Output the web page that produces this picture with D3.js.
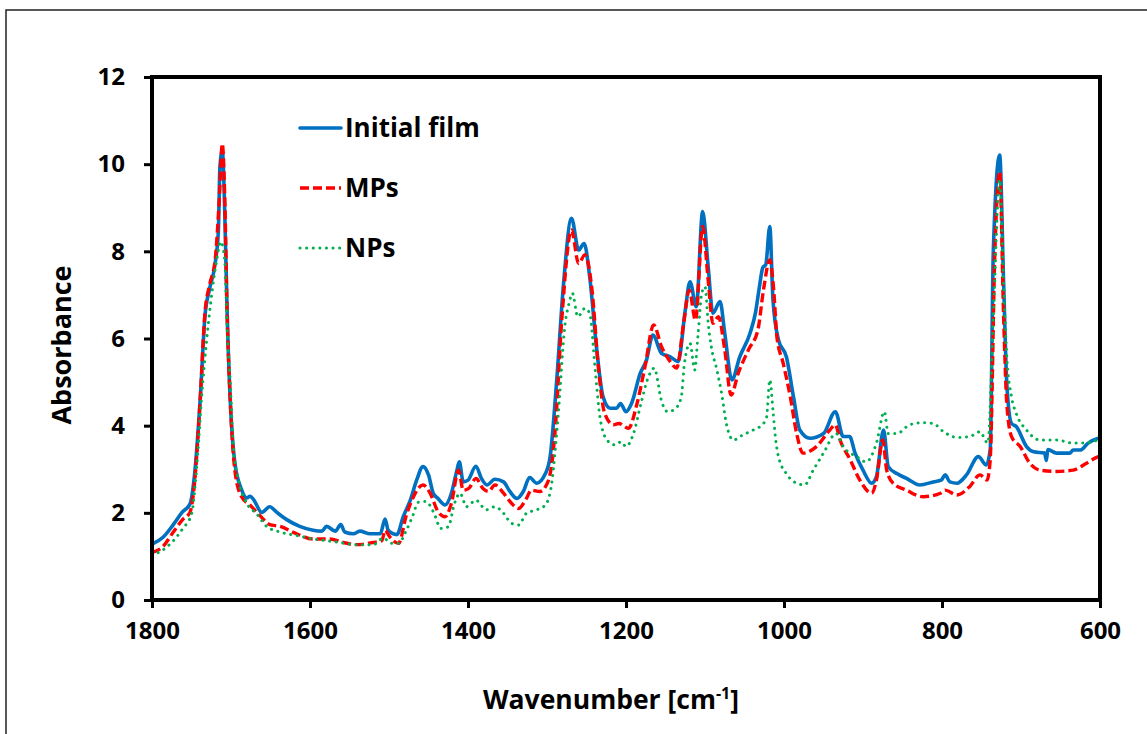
<!DOCTYPE html>
<html>
<head>
<meta charset="utf-8">
<script src="https://cdn.jsdelivr.net/npm/d3@7"></script>
<style>
  html, body { margin: 0; padding: 0; background: #fff; }
  svg { display: block; }
  text { font-family: "Open Sans", "DejaVu Sans", sans-serif; font-weight: 700; fill: #000; }
</style>
</head>
<body>
<svg id="chart" width="1147" height="734"></svg>
<script>
// ---------- data ----------
const xTicks = [1800, 1600, 1400, 1200, 1000, 800, 600];
const yTicks = [0, 2, 4, 6, 8, 10, 12];
const seriesNames = ["Initial film", "MPs", "NPs"];

const initialWn = [1800,1786,1773,1762,1752,1746,1739,1733,1727,1720,1716,1714,1711,1708,1705,1701,1695,1687,1680,1676,1672,1661,1651,1642,1630,1613,1596,1585,1579,1568,1561,1556,1545,1537,1524,1511,1505,1501,1490,1482,1473,1465,1457,1450,1444,1438,1429,1421,1414,1411,1406,1400,1390,1383,1376,1366,1355,1347,1338,1330,1322,1313,1302,1296,1288,1279,1269,1260,1253,1246,1237,1229,1220,1212,1207,1200,1193,1182,1174,1166,1155,1144,1134,1125,1119,1111,1103,1096,1090,1081,1075,1066,1056,1043,1036,1031,1027,1023,1018,1014,1007,997,988,980,967,950,935,925,917,910,900,889,883,874,868,857,845,828,811,801,796,790,781,769,754,744,739,735,727,722,718,712,706,693,684,670,668,666,655,638,634,625,615,602,600];
const initialAbs = [1.28,1.44,1.73,2.01,2.2,2.9,4.6,6.5,7.15,7.73,8.47,9.95,10.3,8.96,6.66,4.6,3.13,2.55,2.34,2.38,2.32,2.01,2.14,2.01,1.85,1.69,1.6,1.58,1.69,1.58,1.73,1.56,1.52,1.58,1.52,1.52,1.86,1.6,1.5,1.91,2.29,2.75,3.06,2.87,2.45,2.33,2.18,2.45,2.98,3.17,2.71,2.75,3.07,2.79,2.64,2.77,2.71,2.49,2.33,2.49,2.81,2.68,2.9,3.29,4.97,7.27,8.76,8.03,8.18,7.42,5.74,4.66,4.4,4.4,4.51,4.32,4.51,5.2,5.51,6.08,5.66,5.58,5.47,6.65,7.3,6.73,8.91,7.65,6.58,6.85,6.12,5.05,5.58,6.12,6.6,7.2,7.62,7.7,8.57,6.9,5.97,5.58,4.66,3.9,3.71,3.82,4.32,3.75,3.75,3.37,2.98,2.68,2.83,3.9,3.06,2.9,2.79,2.64,2.71,2.75,2.87,2.71,2.68,2.87,3.29,3.1,3.44,8.03,10.21,7.27,4.97,4.05,3.98,3.52,3.4,3.37,3.2,3.45,3.37,3.37,3.44,3.44,3.6,3.71,3.72];

const mpsWn = [1800,1786,1773,1761,1752,1746,1739,1733,1727,1720,1715,1711,1708,1705,1701,1695,1687,1676,1663,1651,1638,1617,1596,1575,1558,1541,1520,1509,1505,1499,1488,1478,1469,1457,1448,1438,1429,1421,1412,1406,1399,1390,1381,1374,1366,1355,1345,1336,1326,1320,1309,1298,1290,1281,1269,1260,1252,1243,1235,1227,1216,1209,1197,1186,1176,1165,1155,1144,1136,1127,1120,1112,1103,1096,1090,1083,1075,1067,1058,1045,1033,1026,1018,1013,1009,1001,992,984,976,959,942,935,929,916,904,889,883,875,870,862,845,824,802,796,781,765,752,743,739,733,727,722,718,712,701,689,676,655,634,617,602,600];
const mpsAbs = [1.09,1.23,1.56,1.85,2.01,2.71,4.6,6.58,7.24,7.81,9.13,10.47,9.29,6.66,4.6,2.96,2.38,2.18,1.93,1.73,1.69,1.52,1.4,1.4,1.32,1.27,1.32,1.36,1.6,1.45,1.3,1.95,2.37,2.64,2.45,2.03,1.91,2.22,2.98,2.52,2.56,2.79,2.56,2.49,2.64,2.45,2.22,2.1,2.33,2.52,2.49,2.75,3.82,6.5,8.49,7.72,7.92,7.11,5.35,4.28,4.02,4.05,3.94,4.51,5.35,6.31,5.81,5.47,5.32,6.35,7.11,6.42,8.57,7.34,6.35,6.5,5.74,4.7,5.2,5.74,6.2,7.11,7.8,7.11,6.04,5.43,4.66,3.82,3.37,3.52,3.9,4.02,3.67,3.21,2.75,2.45,2.75,3.67,2.98,2.68,2.52,2.37,2.45,2.52,2.41,2.6,2.87,2.75,3.21,8.03,9.83,6.5,4.51,3.75,3.52,3.14,2.98,2.95,2.98,3.14,3.29,3.3];

const npsWn = [1800,1786,1773,1761,1750,1743,1737,1731,1724,1718,1713,1708,1705,1701,1697,1690,1680,1667,1655,1638,1617,1596,1579,1562,1541,1520,1507,1497,1488,1478,1470,1463,1453,1444,1434,1425,1417,1410,1402,1390,1377,1366,1355,1345,1336,1326,1313,1302,1294,1286,1277,1272,1268,1261,1252,1246,1239,1233,1224,1214,1206,1200,1191,1181,1173,1164,1160,1156,1147,1137,1130,1126,1119,1113,1109,1104,1100,1096,1092,1085,1079,1073,1064,1052,1039,1026,1022,1018,1014,1011,1007,997,984,974,963,950,934,925,908,896,883,873,868,857,841,824,811,798,781,765,752,742,735,727,722,718,712,706,693,676,655,634,622,602,600];
const npsAbs = [1.03,1.15,1.36,1.64,1.97,3.13,4.69,5.92,7.07,7.81,8.22,7.81,6.25,5.02,3.54,2.71,2.22,1.97,1.69,1.56,1.48,1.4,1.36,1.32,1.27,1.27,1.42,1.3,1.3,1.6,1.93,2.24,2.26,2.03,1.64,1.68,2.22,2.45,2.14,2.29,2.07,2.14,1.99,1.76,1.72,1.99,2.07,2.18,2.68,4.2,6.35,6.81,7.04,6.5,6.69,6.58,5.28,4.2,3.67,3.56,3.63,3.52,3.79,4.51,5.05,5.32,5.05,4.63,4.32,4.4,4.66,5.43,5.89,5.28,6.04,7.04,7.19,6.35,5.81,5.28,4.74,4.05,3.67,3.79,3.9,4.05,4.2,5.05,4.36,3.75,3.29,2.9,2.68,2.64,2.98,3.37,3.82,3.52,3.29,3.17,3.6,4.32,3.82,3.82,4.02,4.07,4.05,3.86,3.73,3.75,3.86,3.6,6.5,9.64,7.27,5.58,4.66,4.28,3.9,3.67,3.67,3.6,3.6,3.67,3.68];

// ---------- layout ----------
const svg = d3.select("#chart");
const mLeft = 152, mRight = 1100, mTop = 77, mBottom = 600;

const x = d3.scaleLinear().domain([1800, 600]).range([mLeft, mRight]);
const y = d3.scaleLinear().domain([0, 12]).range([mBottom, mTop]);

// outer figure border
svg.append("rect")
  .attr("x", 6).attr("y", 10).attr("width", 1160).attr("height", 760)
  .attr("fill", "none").attr("stroke", "#222").attr("stroke-width", 1.5);

// axes (ticks + labels)
const yAxis = svg.append("g")
  .attr("transform", `translate(${mLeft},0)`)
  .call(d3.axisLeft(y).tickValues(yTicks).tickFormat(d3.format("d")).tickSize(8).tickSizeOuter(0).tickPadding(19));
const xAxis = svg.append("g")
  .attr("transform", `translate(0,${mBottom})`)
  .call(d3.axisBottom(x).tickValues(xTicks).tickFormat(d3.format("d")).tickSize(8).tickSizeOuter(0).tickPadding(14));
[yAxis, xAxis].forEach(g => {
  g.select(".domain").remove();
  g.selectAll(".tick line").attr("stroke", "#000").attr("stroke-width", 3);
  g.selectAll(".tick text")
    .style("font-family", '"Open Sans", sans-serif')
    .style("font-weight", 700).style("font-size", "24px").attr("fill", "#000");
});

// series
const mk = (wn, ab) => wn.slice(0, Math.min(wn.length, ab.length)).map((w, i) => [w, ab[i]]);
const line = d3.line().x(d => x(d[0])).y(d => y(d[1])).curve(d3.curveMonotoneX);

const series = [
  { name: seriesNames[0], data: mk(initialWn, initialAbs), color: "#0070C0", width: 3.6, dash: null, cap: "round" },
  { name: seriesNames[1], data: mk(mpsWn, mpsAbs), color: "#FF0000", width: 3.4, dash: "9,4", cap: "butt" },
  { name: seriesNames[2], data: mk(npsWn, npsAbs), color: "#00B050", width: 3, dash: "0.1,6.5", cap: "round" }
];

const plotG = svg.append("g");
series.forEach(s => {
  plotG.append("path")
    .datum(s.data)
    .attr("d", line)
    .attr("fill", "none")
    .attr("stroke", s.color)
    .attr("stroke-width", s.width)
    .attr("stroke-linecap", s.cap)
    .attr("stroke-linejoin", "round")
    .attr("stroke-dasharray", s.dash);
});

// plot frame
svg.append("rect")
  .attr("x", mLeft).attr("y", mTop)
  .attr("width", mRight - mLeft).attr("height", mBottom - mTop)
  .attr("fill", "none").attr("stroke", "#000").attr("stroke-width", 4);

// legend
const legY = [128, 188, 248];
series.forEach((s, i) => {
  svg.append("line")
    .attr("x1", 300).attr("x2", 341).attr("y1", legY[i]).attr("y2", legY[i])
    .attr("stroke", s.color).attr("stroke-width", s.width)
    .attr("stroke-linecap", s.cap).attr("stroke-dasharray", s.dash);
  svg.append("text")
    .attr("x", 345).attr("y", legY[i]).attr("dy", "0.36em")
    .style("font-size", "26px")
    .text(s.name);
});

// axis titles
const xt = svg.append("text")
  .attr("x", 611).attr("y", 709).attr("text-anchor", "middle")
  .style("font-size", "26.5px");
xt.append("tspan").text("Wavenumber [cm");
xt.append("tspan").attr("dy", "-10").style("font-size", "16px").text("-1");
xt.append("tspan").attr("dy", "10").text("]");

svg.append("text")
  .attr("transform", "translate(71,345) rotate(-90)")
  .attr("text-anchor", "middle")
  .style("font-size", "27px")
  .text("Absorbance");
</script>
</body>
</html>
